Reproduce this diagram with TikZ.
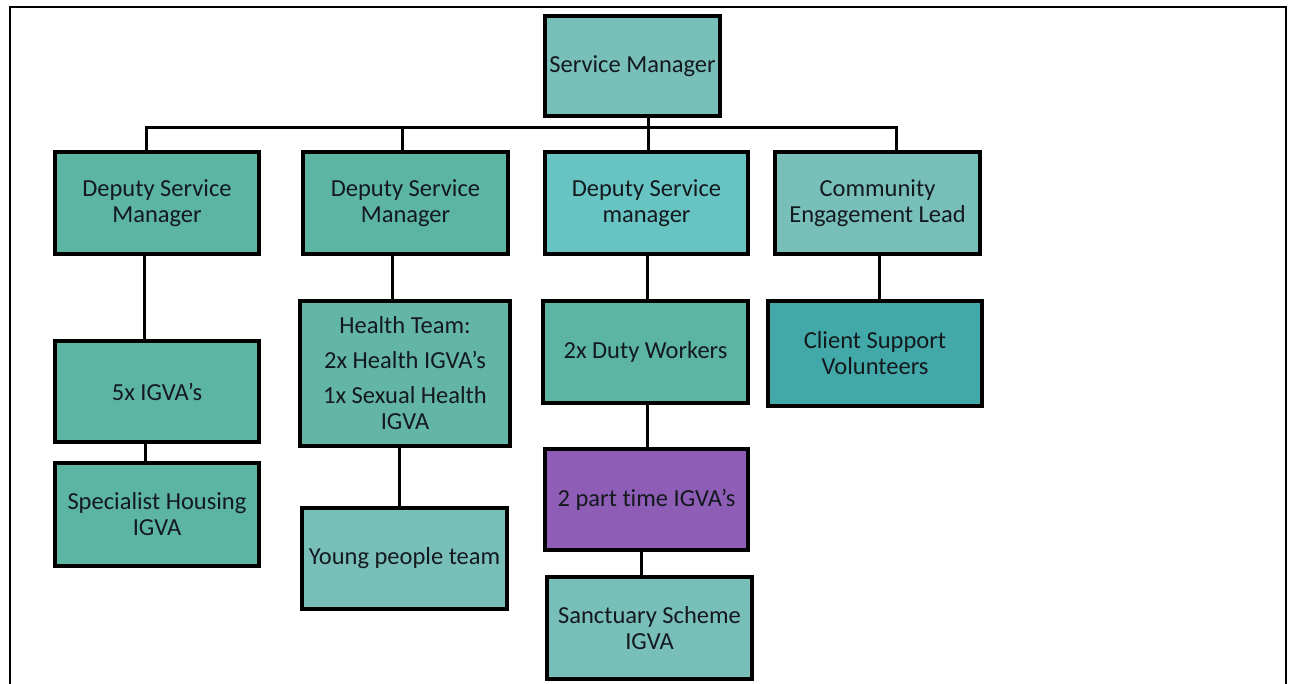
\documentclass[tikz,border=0pt]{standalone}
\usepackage{fontspec}
\setmainfont{Carlito}[Ligatures={NoCommon}]
\definecolor{cA}{HTML}{5BB5A2}
\definecolor{cB}{HTML}{78BFB9}
\definecolor{cC}{HTML}{68C4C2}
\definecolor{cD}{HTML}{42A9A8}
\definecolor{cE}{HTML}{63B6A5}
\definecolor{cP}{HTML}{8E5DB5}
\definecolor{txt}{HTML}{14191E}
\begin{document}
\begin{tikzpicture}[x=1pt,y=-1pt,
  box/.style={draw=black, line width=3.5pt, rectangle, align=center, inner sep=0pt,
    text=txt, font=\fontsize{24.5}{26}\selectfont},
  link/.style={draw=black, line width=3pt}]
\useasboundingbox (0,0) rectangle (1289,684);
\fill[white] (0,0) rectangle (1289,684);
\draw[line width=2.2pt] (10,700) -- (10,7) -- (1286,7) -- (1286,700);
% nodes
\node[box, fill=cB, minimum width=175pt, minimum height=100pt] (sm) at (632.5,66) {Service Manager};
\node[box, fill=cA, minimum width=204pt, minimum height=102pt] (d1) at (157,203) {Deputy Service\\Manager};
\node[box, fill=cA, minimum width=205pt, minimum height=102pt] (d2) at (405.5,203) {Deputy Service\\Manager};
\node[box, fill=cC, minimum width=203pt, minimum height=102pt] (d3) at (646.5,203) {Deputy Service\\manager};
\node[box, fill=cB, minimum width=205pt, minimum height=102pt] (cel) at (877.5,203) {Community\\Engagement Lead};
\node[box, fill=cA, minimum width=204pt, minimum height=101pt] (i5) at (157,391.5) {5x IGVA’s};
\node[box, fill=cA, minimum width=204pt, minimum height=103pt] (sh) at (157,514.5) {Specialist Housing\\IGVA};
\node[box, fill=cE, minimum width=210pt, minimum height=145pt] (ht) at (405,373.5) {Health Team:\\[9pt]2x Health IGVA’s\\[9pt]1x Sexual Health\\IGVA};
\node[box, fill=cB, minimum width=205pt, minimum height=101pt] (yp) at (404.5,558.5) {Young people team};
\node[box, fill=cA, minimum width=205pt, minimum height=102pt] (dw) at (645.5,352) {2x Duty Workers};
\node[box, fill=cP, minimum width=203pt, minimum height=101pt] (pt) at (646.5,499.5) {2 part time IGVA’s};
\node[box, fill=cB, minimum width=205pt, minimum height=102pt] (sc) at (649.5,628) {Sanctuary Scheme\\IGVA};
\node[box, fill=cD, minimum width=214pt, minimum height=105pt] (cs) at (875,353.5) {Client Support\\Volunteers};
% bus
\coordinate (bus) at (648,128);
\draw[link] (sm.south -| bus) -- (bus);
\draw[link] ([xshift=-11pt]d1.north) |- (bus);
\draw[link] (bus) -| ([xshift=18.5pt]cel.north);
\draw[link] ([xshift=-3.5pt]d2.north) -- ([xshift=-3.5pt]d2.north |- bus);
\draw[link] (d3.north -| bus) -- (bus);
% vertical links
\draw[link] ([xshift=-13pt]d1.south) -- ([xshift=-13pt]i5.north);
\draw[link] ([xshift=-12pt]i5.south) -- ([xshift=-12pt]sh.north);
\draw[link] ([xshift=-13.5pt]d2.south) -- ([xshift=-13pt]ht.north);
\draw[link] ([xshift=-6pt]ht.south) -- ([xshift=-5.5pt]yp.north);
\draw[link] ([xshift=0.5pt]d3.south) -- ([xshift=1.5pt]dw.north);
\draw[link] ([xshift=1.5pt]dw.south) -- ([xshift=0.5pt]pt.north);
\draw[link] ([xshift=-5.5pt]pt.south) -- ([xshift=-8.5pt]sc.north);
\draw[link] ([xshift=1.5pt]cel.south) -- ([xshift=4pt]cs.north);
\end{tikzpicture}
\end{document}
